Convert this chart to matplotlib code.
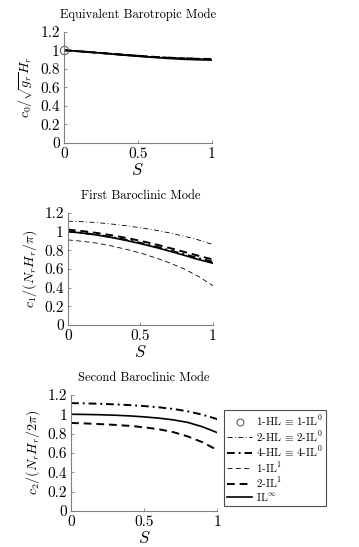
import numpy as np
import matplotlib
matplotlib.use("Agg")
import matplotlib.pyplot as plt
from matplotlib.lines import Line2D

plt.rcParams["font.family"] = "serif"
plt.rcParams["font.serif"] = ["cmr10", "DejaVu Serif"]
plt.rcParams["mathtext.fontset"] = "cm"
plt.rcParams["axes.formatter.use_mathtext"] = True

S = [0, 0.1, 0.2, 0.3, 0.4, 0.5, 0.6, 0.7, 0.8, 0.9, 1.0]

# equivalent barotropic mode
c0_circle = 1.0
c0_hl2 = [1.0, 0.99, 0.978, 0.966, 0.954, 0.942, 0.931, 0.922, 0.915, 0.91, 0.907]
c0_hl4 = [1.0, 0.989, 0.977, 0.965, 0.952, 0.94, 0.929, 0.92, 0.913, 0.908, 0.905]
c0_il1_1 = [1.0, 0.99, 0.978, 0.966, 0.953, 0.941, 0.93, 0.921, 0.914, 0.909, 0.906]
c0_il1_2 = [1.0, 0.989, 0.977, 0.964, 0.951, 0.939, 0.928, 0.919, 0.912, 0.907, 0.904]
c0_inf = [1.0, 0.988, 0.975, 0.962, 0.948, 0.935, 0.923, 0.912, 0.903, 0.897, 0.893]

# first baroclinic mode
c1_hl2 = [1.11, 1.105, 1.095, 1.08, 1.062, 1.04, 1.015, 0.985, 0.95, 0.91, 0.86]
c1_hl4 = [1.0, 0.985, 0.965, 0.94, 0.911, 0.878, 0.841, 0.80, 0.757, 0.715, 0.675]
c1_il1_1 = [0.91, 0.895, 0.875, 0.845, 0.81, 0.77, 0.72, 0.665, 0.60, 0.52, 0.42]
c1_il1_2 = [1.02, 1.004, 0.984, 0.96, 0.932, 0.90, 0.864, 0.824, 0.782, 0.74, 0.70]
c1_inf = [1.0, 0.983, 0.962, 0.936, 0.905, 0.87, 0.832, 0.79, 0.746, 0.70, 0.66]

# second baroclinic mode
c2_hl4 = [1.115, 1.113, 1.108, 1.102, 1.095, 1.085, 1.072, 1.055, 1.03, 0.995, 0.95]
c2_il1_2 = [0.91, 0.905, 0.898, 0.89, 0.88, 0.865, 0.845, 0.815, 0.77, 0.71, 0.63]
c2_inf = [1.0, 0.998, 0.995, 0.99, 0.983, 0.973, 0.96, 0.942, 0.915, 0.87, 0.81]

thin_dd = dict(color="k", lw=0.6, ls=(0, (6, 3, 1, 3)))
thick_dd = dict(color="k", lw=1.4, ls=(0, (4, 2, 1, 2)))
thin_d = dict(color="k", lw=0.6, ls=(0, (6, 4)))
thick_d = dict(color="k", lw=1.4, ls=(0, (4, 2.5)))
solid = dict(color="k", lw=1.2, ls="-")

fig = plt.figure(figsize=(3.59, 5.47), dpi=100)
ax1 = fig.add_axes([0.178, 0.739, 0.412, 0.203])
ax2 = fig.add_axes([0.189, 0.406, 0.404, 0.205])
ax3 = fig.add_axes([0.198, 0.066, 0.407, 0.212])

ax1.plot(S, c0_hl2, **thin_dd)
ax1.plot(S, c0_hl4, **thick_dd)
ax1.plot(S, c0_il1_1, **thin_d)
ax1.plot(S, c0_il1_2, **thick_d)
ax1.plot(S, c0_inf, **solid)
ax1.plot([0], [c0_circle], "o", mfc="none", mec="0.3", ms=6, mew=0.7, clip_on=False)

ax2.plot(S, c1_hl2, **thin_dd)
ax2.plot(S, c1_il1_1, **thin_d)
ax2.plot(S, c1_il1_2, **thick_d)
ax2.plot(S, c1_hl4, **thick_dd)
ax2.plot(S, c1_inf, **solid)

ax3.plot(S, c2_hl4, **thick_dd)
ax3.plot(S, c2_il1_2, **thick_d)
ax3.plot(S, c2_inf, **solid)

titles = ["Equivalent Barotropic Mode", "First Baroclinic Mode", "Second Baroclinic Mode"]
ylabels = [r"$c_0/\sqrt{g_r}H_r$", r"$c_1/(N_rH_r/\pi)$", r"$c_2/(N_rH_r/2\pi)$"]
for ax, t, yl in zip([ax1, ax2, ax3], titles, ylabels):
    ax.set_xlim(0, 1)
    ax.set_ylim(0, 1.2)
    ax.set_xticks([0, 0.5, 1])
    ax.set_xticklabels(["0", "0.5", "1"])
    ax.set_yticks([0, 0.2, 0.4, 0.6, 0.8, 1.0, 1.2])
    ax.set_yticklabels(["0", "0.2", "0.4", "0.6", "0.8", "1", "1.2"])
    ax.spines["top"].set_visible(False)
    ax.spines["right"].set_visible(False)
    for sp in ("left", "bottom"):
        ax.spines[sp].set_color("0.5")
        ax.spines[sp].set_linewidth(0.8)
    ax.tick_params(direction="in", length=2, width=0.6, color="0.5", labelsize=11, pad=3)
    ax.set_title(t, fontsize=9, pad=10)
    ax.set_ylabel(yl, fontsize=10, labelpad=4)
    ax.set_xlabel(r"$S$", fontsize=12, labelpad=1)

handles = [
    Line2D([], [], ls="none", marker="o", mfc="none", mec="0.3", ms=5, mew=0.7),
    Line2D([], [], **thin_dd),
    Line2D([], [], **thick_dd),
    Line2D([], [], **thin_d),
    Line2D([], [], **thick_d),
    Line2D([], [], **solid),
]
labels = [
    r"1-HL$\,\equiv\,$1-IL$^0$",
    r"2-HL$\,\equiv\,$2-IL$^0$",
    r"4-HL$\,\equiv\,$4-IL$^0$",
    r"1-IL$^1$",
    r"2-IL$^1$",
    r"IL$^\infty$",
]
leg = fig.legend(handles, labels, loc="upper left", bbox_to_anchor=(0.624, 0.2505),
                 borderaxespad=0, fontsize=8, handlelength=2.2, handletextpad=0.4,
                 labelspacing=0.08, borderpad=0.3, fancybox=False, framealpha=1,
                 edgecolor="0.3")
leg.get_frame().set_linewidth(0.8)

fig.savefig("out.png", dpi=100)
